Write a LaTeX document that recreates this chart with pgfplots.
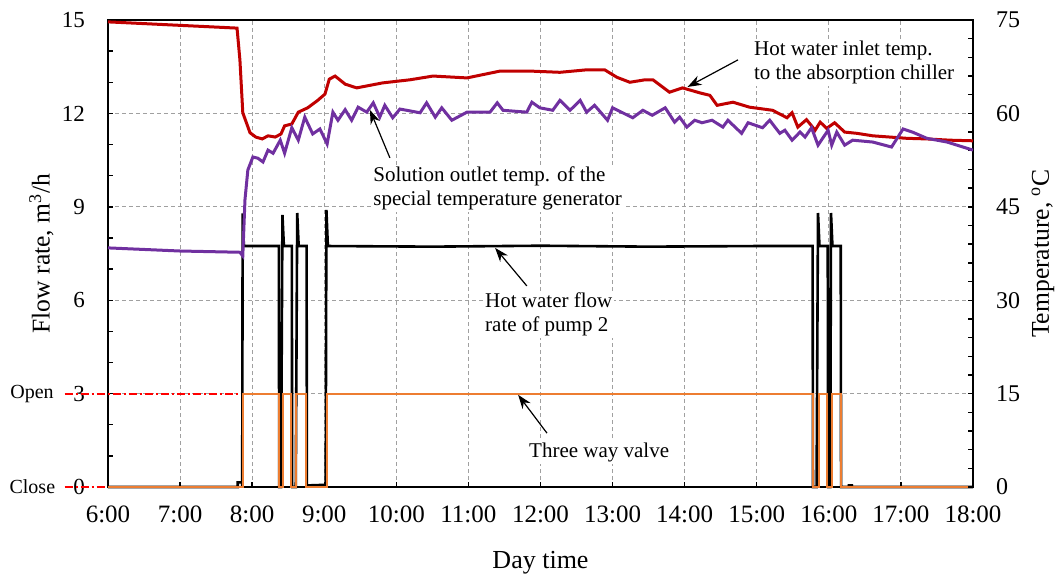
\documentclass[border=0pt]{standalone}
\usepackage{fontspec}
\setmainfont{Liberation Serif}
\usepackage{pgfplots}
\pgfplotsset{compat=1.18}
\usetikzlibrary{arrows.meta}
\definecolor{tred}{HTML}{C00000}
\definecolor{tpurple}{HTML}{7030A0}
\definecolor{torange}{HTML}{ED7D31}
\definecolor{gridgray}{HTML}{A0A0A0}
\definecolor{openred}{HTML}{FF0000}
\tikzset{
  annot/.style={fill=white, inner sep=1pt, align=left, anchor=west, font=\fontsize{10.5}{12}\selectfont},
  arr/.style={-{Stealth[length=7pt,width=5pt]}, line width=0.6pt},
  openline/.style={openred, line width=1pt, dash pattern=on 4pt off 1.5pt on 1pt off 1.5pt}}
\begin{document}
\begin{tikzpicture}
\useasboundingbox (-54pt,-46pt) rectangle (477pt,243.5pt);
\begin{axis}[
  scale only axis, width=432.5pt, height=233.5pt,
  xmin=6, xmax=18, ymin=0, ymax=15,
  xtick={6,...,18},
  xticklabels={6:00,7:00,8:00,9:00,10:00,11:00,12:00,13:00,14:00,15:00,16:00,17:00,18:00},
  ytick={0,3,...,15}, minor y tick num=2,
  xtick pos=left, ytick pos=left,
  tick align=inside, major tick length=2.5pt, minor tick length=2.5pt,
  tick style={black, line width=0.7pt},
  grid=major,
  major grid style={gridgray, dash pattern=on 2pt off 1.5pt, line width=0.5pt},
  axis line style={-, line width=0.9pt},
  clip=false,
  /pgf/number format/assume math mode=true,
  yticklabel style={xshift=-8pt, font=\fontsize{11.5}{13}\selectfont},
  xticklabel style={yshift=-6pt, font=\fontsize{12.5}{14}\selectfont},
  ylabel={Flow rate, m\textsuperscript{3}/h},
  ylabel style={at={(axis description cs:-0.077,0.5)}, anchor=center, font=\fontsize{12.8}{14}\selectfont},
  xlabel={Day time},
  xlabel style={at={(axis description cs:0.5,-0.163)}, anchor=center, font=\fontsize{13}{15}\selectfont},
]
% Open / Close marker lines
\draw[openline] (axis cs:5.40,3) -- (axis cs:7.86,3);
\draw[openline] (axis cs:5.40,0) -- (axis cs:6.08,0);
\node[anchor=east, font=\fontsize{10}{12}\selectfont, inner sep=1pt] at (axis cs:5.28,3) {Open};
\node[anchor=east, font=\fontsize{10}{12}\selectfont, inner sep=1pt] at (axis cs:5.30,0) {Close};

% Hot water flow rate of pump 2
\addplot[black, line width=1.3pt] coordinates {
(6.00,0) (7.80,0) (7.80,0.15) (7.86,0.15) (7.862,0) (7.868,8.79) (7.885,7.74)
(8.37,7.74) (8.375,0) (8.40,0) (8.42,8.74) (8.44,7.74)
(8.55,7.74) (8.555,0) (8.605,0) (8.625,8.80) (8.645,7.74)
(8.755,7.74) (8.76,0.05) (9.02,0.07) (9.03,8.9) (9.05,7.74)
(10.5,7.72) (12.0,7.75) (13.5,7.72) (15.0,7.74)
(15.775,7.74) (15.78,0) (15.83,0) (15.85,8.8) (15.87,7.74)
(15.985,7.74) (15.99,0) (16.02,0) (16.03,8.8) (16.05,7.74)
(16.165,7.74) (16.17,0) (16.28,0) (16.28,0.05) (16.32,0.05) (16.32,0) (18.00,0)
};
% Three way valve
\addplot[torange, line width=1.1pt] coordinates {
(6.00,0) (7.868,0) (7.868,3) (8.37,3) (8.37,0) (8.425,0) (8.425,3)
(8.54,3) (8.54,0) (8.61,0) (8.61,3) (8.75,3) (8.75,0) (9.04,0) (9.04,3)
(15.78,3) (15.78,0) (15.86,0) (15.86,3) (15.98,3) (15.98,0) (16.04,0) (16.04,3)
(16.17,3) (16.17,0) (18.00,0)
};

\node[annot] at (axis cs:14.93,13.65) {Hot water inlet temp.\\to the absorption chiller};
\draw[arr] (axis cs:14.74,13.72) -- (axis cs:14.04,12.85);
\node[annot] at (axis cs:9.648,9.59) {Solution outlet temp. of the\\special temperature generator};
\draw[arr] (axis cs:9.911,10.57) -- (axis cs:9.634,12.11);
\node[annot] at (axis cs:11.20,5.54) {Hot water flow\\rate of pump 2};
\draw[arr] (axis cs:11.81,6.46) -- (axis cs:11.37,7.68);
\node[annot] at (axis cs:11.81,1.12) {Three way valve};
\draw[arr] (axis cs:12.09,1.73) -- (axis cs:11.69,2.96);
\end{axis}

\begin{axis}[
  scale only axis, width=432.5pt, height=233.5pt,
  xmin=6, xmax=18, ymin=0, ymax=75,
  axis x line=none, axis y line*=right,
  ytick={0,15,...,75}, minor y tick num=4,
  tick align=inside, major tick length=2.5pt, minor tick length=2.5pt,
  tick style={black, line width=0.7pt},
  axis line style={-, line width=0.9pt},
  /pgf/number format/assume math mode=true,
  yticklabel style={xshift=8pt, font=\fontsize{12}{14}\selectfont},
  ylabel={Temperature, \textsuperscript{o}C},
  ylabel style={at={(axis description cs:1.081,0.5)}, anchor=center, font=\fontsize{12.8}{14}\selectfont},
]
% Hot water inlet temperature to the absorption chiller
\addplot[tred, line width=1.5pt] coordinates {
(6.00,74.7) (7.79,73.7) (7.83,68.6) (7.87,60.1) (7.97,56.9) (8.05,56.2) (8.14,55.9)
(8.22,56.4) (8.32,56.2) (8.40,56.7) (8.45,58.0) (8.55,58.3) (8.64,60.2) (8.77,60.9)
(8.91,62.1) (9.01,63.1) (9.07,65.5) (9.15,66.0) (9.29,64.7) (9.45,64.1) (9.81,64.9)
(10.19,65.4) (10.51,66.0) (10.98,65.7) (11.44,66.8) (11.85,66.8) (12.27,66.6)
(12.64,67.0) (12.89,67.0) (13.06,65.8) (13.24,65.0) (13.45,65.4) (13.56,65.4)
(13.79,63.4) (13.97,64.1) (14.21,63.3) (14.35,62.9) (14.45,61.3) (14.67,61.8)
(14.90,61.0) (15.22,60.5) (15.42,59.3) (15.49,60.1) (15.57,57.8) (15.69,59.0)
(15.81,57.3) (15.88,58.6) (15.97,57.6) (16.08,58.5) (16.22,57.0) (16.39,56.8)
(16.61,56.4) (16.85,56.2) (17.08,56.0) (17.36,55.9) (17.68,55.7) (18.00,55.6)
};
% Solution outlet temperature of the special temperature generator
\addplot[tpurple, line width=1.5pt] coordinates {
(6.00,38.4) (7.00,37.9) (7.83,37.7) (7.87,37.1) (7.90,46.1) (7.94,50.9) (8.01,53.0)
(8.08,52.8) (8.15,52.2) (8.22,54.1) (8.29,53.6) (8.39,55.7) (8.45,53.6) (8.55,57.7)
(8.64,55.7) (8.73,59.4) (8.84,56.7) (8.94,57.5) (9.04,55.1) (9.12,60.2) (9.19,58.9)
(9.29,60.6) (9.38,58.9) (9.47,61.0) (9.59,60.2) (9.68,61.7) (9.77,59.4) (9.84,61.3)
(9.95,59.3) (10.05,60.7) (10.33,60.1) (10.42,61.7) (10.54,59.4) (10.63,60.9)
(10.77,58.9) (10.98,60.2) (11.30,60.2) (11.40,61.7) (11.48,60.5) (11.81,60.2)
(11.88,61.8) (11.99,60.9) (12.17,60.5) (12.27,62.1) (12.41,60.5) (12.55,62.1)
(12.64,60.2) (12.75,61.3) (12.93,58.9) (13.00,60.9) (13.28,59.3) (13.42,60.5)
(13.55,59.7) (13.73,60.9) (13.86,58.6) (13.93,59.4) (14.03,57.8) (14.14,58.9)
(14.24,58.5) (14.38,58.9) (14.53,57.8) (14.60,58.9) (14.79,56.8) (14.88,58.5)
(15.08,57.7) (15.18,58.9) (15.32,56.8) (15.39,57.3) (15.49,55.7) (15.60,57.0)
(15.67,56.2) (15.76,57.7) (15.85,54.9) (15.99,57.3) (16.04,54.9) (16.11,57.0)
(16.22,54.9) (16.33,55.7) (16.61,55.4) (16.87,54.6) (17.03,57.5) (17.16,57.0)
(17.36,56.0) (17.64,55.4) (18.00,54.1)
};
\end{axis}
\end{tikzpicture}
\end{document}
